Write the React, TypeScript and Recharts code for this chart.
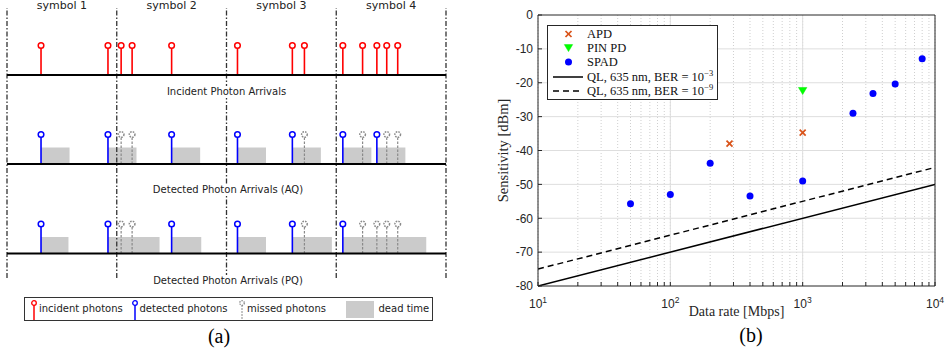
import React from 'react';
import {
  ComposedChart,
  Scatter,
  Line,
  XAxis,
  YAxis,
  CartesianGrid,
  ReferenceLine,
  ReferenceArea,
} from 'recharts';

// ---------- panel (a): photon arrival times, in symbol periods ----------
const symbolLabels = ['symbol 1', 'symbol 2', 'symbol 3', 'symbol 4'];
const symbolEdges = [0, 1, 2, 3, 4];

const incidentTimes = [0.31, 0.92, 1.04, 1.14, 1.5, 2.1, 2.6, 2.71, 3.06, 3.24, 3.37, 3.46, 3.56];

const aqDetected = [0.31, 0.92, 1.5, 2.1, 2.6, 3.06, 3.37];
const aqMissed = [1.04, 1.14, 2.71, 3.24, 3.46, 3.56];
const aqDeadStart = [0.31, 0.92, 1.5, 2.1, 2.6, 3.06, 3.37];
const aqDeadEnd = [0.57, 1.18, 1.76, 2.36, 2.86, 3.32, 3.63];

const pqDetected = [0.31, 0.92, 1.5, 2.1, 2.6, 3.06];
const pqMissed = [1.04, 1.14, 2.71, 3.24, 3.37, 3.46, 3.56];
const pqDeadStart = [0.31, 0.92, 1.5, 2.1, 2.6, 3.06];
const pqDeadEnd = [0.56, 1.39, 1.77, 2.36, 2.96, 3.82];

// ---------- panel (b): receiver sensitivity vs data rate ----------
const apdRate = [280, 1000];
const apdSens = [-38, -34.7];
const pinRate = [1000];
const pinSens = [-22.4];
const spadRate = [50, 100, 200, 400, 1000, 2400, 3400, 5000, 8000];
const spadSens = [-55.7, -53, -43.8, -53.4, -49, -29, -23.2, -20.4, -12.9];
const qlRate = [10, 10000];
const qlBer3 = [-80, -50];
const qlBer9 = [-75, -45];

const xTicks = [10, 20, 30, 40, 50, 60, 70, 80, 90, 100, 200, 300, 400, 500, 600, 700, 800, 900,
  1000, 2000, 3000, 4000, 5000, 6000, 7000, 8000, 9000, 10000];
const xMajor = [100, 1000];
const yTicks = [-80, -70, -60, -50, -40, -30, -20, -10, 0];
const yGrid = [-70, -60, -50, -40, -30, -20, -10];

// row layout for panel (a), in y units of its hidden axis
const ROW = { inc: 20.3, aq: 11.4, pq: 2.45 };
const STEM = 2.95;
const DEAD = 1.65;
const TOP = 27;

const RED = '#ff0000';
const BLUE = '#0000ff';
const MISS = '#8a8a8a';
const DEAD_FILL = '#cbcbcb';
const AX = '#262626';
const sans = '"DejaVu Sans", Verdana, sans-serif';
const serif = '"Liberation Serif", "Times New Roman", serif';

const zip = (xs: number[], ys: number[]) => xs.map((x, i) => ({ x, y: ys[i] }));

const head = (color: string, dashed = false) => (p: any) => (
  <circle cx={p.cx} cy={p.cy} r={2.8} fill="#fff" stroke={color} strokeWidth={1.5}
    strokeDasharray={dashed ? '1.6 1.1' : undefined} />
);

function stems(times: number[], base: number, color: string, dashed: boolean, key: string) {
  return times.map((t, i) => (
    <ReferenceLine key={key + i} segment={[{ x: t, y: base }, { x: t, y: base + STEM }]}
      stroke={color} strokeWidth={dashed ? 1.2 : 1.6} strokeDasharray={dashed ? '2.5 1.5' : undefined}
      ifOverflow="visible" />
  ));
}

function deadAreas(starts: number[], ends: number[], base: number, key: string) {
  return starts.map((s, i) => (
    <ReferenceArea key={key + i} x1={s} x2={ends[i]} y1={base} y2={base + DEAD}
      fill={DEAD_FILL} fillOpacity={1} stroke="none" ifOverflow="visible" />
  ));
}

const rowLabel: React.CSSProperties = {
  position: 'absolute', transform: 'translate(-50%, -50%)', background: '#fff',
  fontFamily: sans, fontSize: 10, color: '#222',
  whiteSpace: 'nowrap', padding: '0 3px', lineHeight: '12px',
};

function StemIcon({ color, dashed, left }: { color: string; dashed?: boolean; left: number }) {
  return (
    <svg width={8} height={22} style={{ position: 'absolute', left: left - 4, top: 1 }}>
      <line x1={4} y1={6} x2={4} y2={21} stroke={color} strokeWidth={dashed ? 1 : 1.5}
        strokeDasharray={dashed ? '2 1' : undefined} />
      <circle cx={4} cy={4} r={2.3} fill="#fff" stroke={color} strokeWidth={1.3}
        strokeDasharray={dashed ? '1.3 1' : undefined} />
    </svg>
  );
}

function PanelA() {
  const legendText: React.CSSProperties = {
    position: 'absolute', top: 5, fontSize: 10, lineHeight: '12px',
    fontFamily: sans, color: '#222', whiteSpace: 'nowrap',
  };
  return (
    <div style={{ position: 'absolute', left: 0, top: 0, width: 474, height: 349 }}>
      <ComposedChart width={474} height={349} margin={{ top: 8, right: 28, bottom: 71, left: 7 }}>
        <XAxis dataKey="t" type="number" domain={[0, 4]} hide />
        <YAxis dataKey="y" type="number" domain={[0, TOP]} hide />

        {deadAreas(aqDeadStart, aqDeadEnd, ROW.aq, 'aqd')}
        {deadAreas(pqDeadStart, pqDeadEnd, ROW.pq, 'pqd')}

        {symbolEdges.map((e) => (
          <ReferenceLine key={'edge' + e} x={e} stroke="#333" strokeWidth={1.3}
            strokeDasharray="5 2 1.5 2" ifOverflow="visible" />
        ))}

        {symbolLabels.map((s, i) => (
          <ReferenceLine key={'sym' + i} segment={[{ x: i, y: TOP }, { x: i + 1, y: TOP }]}
            stroke="none" ifOverflow="visible"
            label={{ value: s, position: 'top', offset: -0.5, fill: '#222', fontSize: 11, fontFamily: sans }} />
        ))}

        {stems(incidentTimes, ROW.inc, RED, false, 'inc')}
        {stems(aqDetected, ROW.aq, BLUE, false, 'aq')}
        {stems(aqMissed, ROW.aq, MISS, true, 'aqm')}
        {stems(pqDetected, ROW.pq, BLUE, false, 'pq')}
        {stems(pqMissed, ROW.pq, MISS, true, 'pqm')}

        {[ROW.inc, ROW.aq, ROW.pq].map((b) => (
          <ReferenceLine key={'base' + b} segment={[{ x: 0, y: b }, { x: 4, y: b }]}
            stroke="#000" strokeWidth={2.2} ifOverflow="visible" />
        ))}

        <Scatter data={incidentTimes.map((t) => ({ t, y: ROW.inc + STEM }))} shape={head(RED)} isAnimationActive={false} />
        <Scatter data={aqDetected.map((t) => ({ t, y: ROW.aq + STEM }))} shape={head(BLUE)} isAnimationActive={false} />
        <Scatter data={aqMissed.map((t) => ({ t, y: ROW.aq + STEM }))} shape={head(MISS, true)} isAnimationActive={false} />
        <Scatter data={pqDetected.map((t) => ({ t, y: ROW.pq + STEM }))} shape={head(BLUE)} isAnimationActive={false} />
        <Scatter data={pqMissed.map((t) => ({ t, y: ROW.pq + STEM }))} shape={head(MISS, true)} isAnimationActive={false} />
      </ComposedChart>

      <div style={{ ...rowLabel, left: 226.5, top: 92 }}>Incident Photon Arrivals</div>
      <div style={{ ...rowLabel, left: 228, top: 189.5 }}>Detected Photon Arrivals (AQ)</div>
      <div style={{ ...rowLabel, left: 228, top: 281 }}>Detected Photon Arrivals (PQ)</div>

      <div style={{ position: 'absolute', left: 24, top: 297, width: 407, height: 22, border: '1.3px solid #333', background: '#fff' }}>
        <StemIcon color={RED} left={9} />
        <span style={{ ...legendText, left: 14 }}>incident photons</span>
        <StemIcon color={BLUE} left={109.5} />
        <span style={{ ...legendText, left: 114.5 }}>detected photons</span>
        <StemIcon color={MISS} dashed left={217} />
        <span style={{ ...legendText, left: 222 }}>missed photons</span>
        <div style={{ position: 'absolute', left: 321, top: 3, width: 28, height: 17, background: DEAD_FILL }} />
        <span style={{ ...legendText, left: 353.5 }}>dead time</span>
      </div>

      <div style={{ position: 'absolute', left: 219, top: 336, transform: 'translate(-50%, -50%)',
        fontFamily: serif, fontSize: 20, lineHeight: '20px' }}>(a)</div>
    </div>
  );
}

function LogTick({ x, y, payload }: any) {
  const exp = Math.round(Math.log10(payload.value));
  if (Math.abs(Math.pow(10, exp) - payload.value) > 1e-6) return null;
  return (
    <text x={x} y={y} dy="0.71em" textAnchor="middle" fontSize={12} fill={AX}
      fontFamily='"Liberation Sans", Arial, sans-serif'>
      10<tspan dy={-5} fontSize={8.5}>{exp}</tspan>
    </text>
  );
}

function XMark(p: any) {
  const d = 3;
  return (
    <g stroke="#d95319" strokeWidth={1.7}>
      <line x1={p.cx - d} y1={p.cy - d} x2={p.cx + d} y2={p.cy + d} />
      <line x1={p.cx - d} y1={p.cy + d} x2={p.cx + d} y2={p.cy - d} />
    </g>
  );
}

function TriDown(p: any) {
  return (
    <polygon points={`${p.cx - 4.2},${p.cy - 3.4} ${p.cx + 4.2},${p.cy - 3.4} ${p.cx},${p.cy + 3.6}`}
      fill="#00ff00" stroke="#00ee00" strokeWidth={0.5} />
  );
}

function Dot(p: any) {
  return <circle cx={p.cx} cy={p.cy} r={3.5} fill={BLUE} />;
}

function LegendRow({ icon, children }: { icon: React.ReactNode; children: React.ReactNode }) {
  return (
    <div style={{ display: 'flex', alignItems: 'center', height: 14.2 }}>
      <svg width={36} height={14} style={{ flex: 'none' }}>{icon}</svg>
      <span style={{ marginLeft: 3, fontFamily: serif, fontSize: 12.5, lineHeight: '14px', whiteSpace: 'nowrap' }}>{children}</span>
    </div>
  );
}

function PanelB() {
  const sup: React.CSSProperties = { fontSize: 8.5, verticalAlign: 5, lineHeight: 0 };
  return (
    <div style={{ position: 'absolute', left: 474, top: 0, width: 474, height: 349 }}>
      <ComposedChart width={474} height={349} margin={{ top: 0, right: 0, bottom: 0, left: 24 }}>
        <CartesianGrid horizontal={false} stroke="#cfcfcf" strokeDasharray="1 2" />
        {xMajor.map((v) => (
          <ReferenceLine key={'vx' + v} x={v} stroke="#dedede" strokeWidth={1} />
        ))}
        {yGrid.map((v) => (
          <ReferenceLine key={'hy' + v} y={v} stroke="#dedede" strokeWidth={1} />
        ))}

        <XAxis dataKey="x" type="number" scale="log" domain={[10, 10000]} allowDataOverflow
          ticks={xTicks} interval={0} height={63} stroke={AX} tickSize={-4} tickMargin={17.5}
          tick={<LogTick />}
          label={{ value: 'Data rate [Mbps]', position: 'insideBottom', offset: 33.5,
            style: { fontFamily: serif, fontSize: 14, fill: AX } }} />
        <XAxis xAxisId="top" orientation="top" type="number" scale="log" domain={[10, 10000]} allowDataOverflow
          ticks={xTicks} interval={0} height={15} stroke={AX} tickSize={-4} tick={false} />
        <YAxis dataKey="y" type="number" domain={[-80, 0]} ticks={yTicks} interval={0} width={40}
          stroke={AX} tickSize={-4} tickMargin={9}
          tick={{ fontSize: 12, fill: AX, fontFamily: '"Liberation Sans", Arial, sans-serif' }}
          label={{ value: 'Sensitivity [dBm]', angle: -90, position: 'insideLeft', offset: 5,
            style: { textAnchor: 'middle', fontFamily: serif, fontSize: 14.5, fill: AX } }} />
        <YAxis yAxisId="right" orientation="right" type="number" domain={[-80, 0]} ticks={yTicks}
          interval={0} width={13} stroke={AX} tickSize={-4} tick={false} />

        <Line data={zip(qlRate, qlBer3)} dataKey="y" type="linear" stroke="#000" strokeWidth={1.5}
          dot={false} isAnimationActive={false} />
        <Line data={zip(qlRate, qlBer9)} dataKey="y" type="linear" stroke="#000" strokeWidth={1.5}
          strokeDasharray="6 4" dot={false} isAnimationActive={false} />

        <Scatter data={zip(apdRate, apdSens)} shape={XMark} isAnimationActive={false} />
        <Scatter data={zip(pinRate, pinSens)} shape={TriDown} isAnimationActive={false} />
        <Scatter data={zip(spadRate, spadSens)} shape={Dot} isAnimationActive={false} />
      </ComposedChart>

      <div style={{ position: 'absolute', left: 73, top: 25, width: 169, height: 71, padding: '1px 0',
        border: `1px solid ${AX}`, background: '#fff', color: '#111' }}>
        <LegendRow icon={<XMark cx={20.5} cy={7} />}>APD</LegendRow>
        <LegendRow icon={<TriDown cx={20.5} cy={7} />}>PIN PD</LegendRow>
        <LegendRow icon={<Dot cx={20.5} cy={7} />}>SPAD</LegendRow>
        <LegendRow icon={<line x1={5} y1={7} x2={35} y2={7} stroke="#000" strokeWidth={1.5} />}>
          QL, 635 nm, BER = 10<span style={sup}>−3</span>
        </LegendRow>
        <LegendRow icon={<line x1={5} y1={7} x2={35} y2={7} stroke="#000" strokeWidth={1.5} strokeDasharray="6 4" />}>
          QL, 635 nm, BER = 10<span style={sup}>−9</span>
        </LegendRow>
      </div>

      <div style={{ position: 'absolute', left: 277, top: 335, transform: 'translate(-50%, -50%)',
        fontFamily: serif, fontSize: 20, lineHeight: '20px' }}>(b)</div>
    </div>
  );
}

export default function App() {
  return (
    <div style={{ position: 'absolute', left: 0, top: 0, width: 948, height: 349, background: '#fff', overflow: 'hidden' }}>
      <PanelA />
      <PanelB />
    </div>
  );
}
